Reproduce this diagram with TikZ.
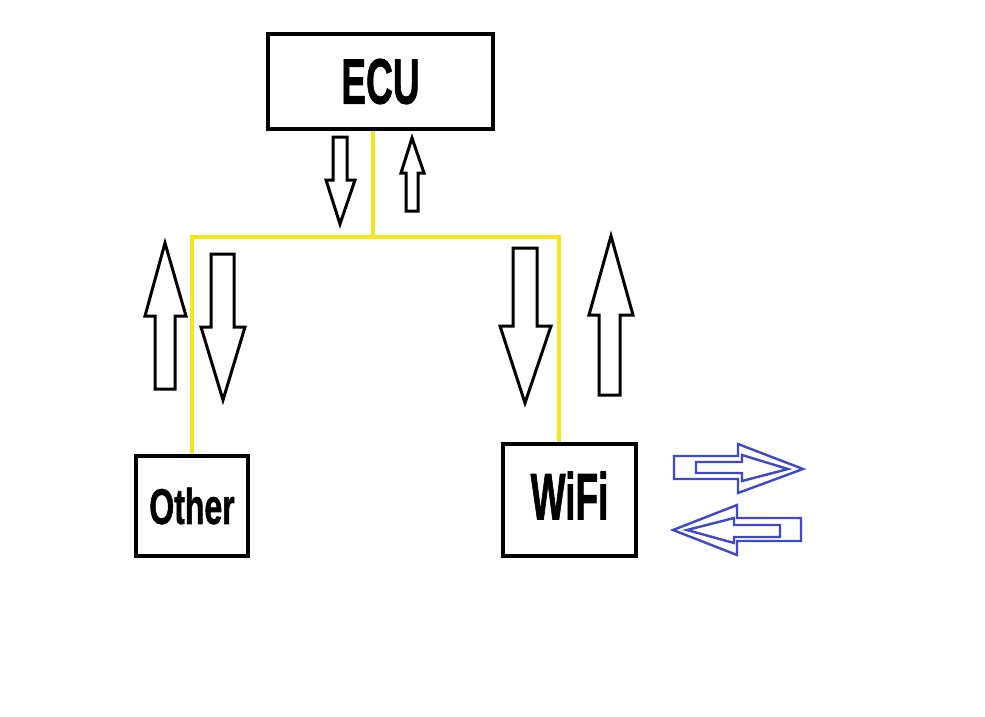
\documentclass[tikz,border=0pt]{standalone}
\usepackage{fontspec}
\setmainfont{Liberation Sans}
\newfontfamily\heavy[FakeBold=1.5]{Liberation Sans Bold}
\definecolor{wireyellow}{RGB}{245,232,25}
\definecolor{paintblue}{RGB}{63,72,204}
\begin{document}
\begin{tikzpicture}[x=1pt,y=-1pt,
  box/.style={draw=black,line width=4.5pt,inner sep=0pt,fill=white},
  wire/.style={draw=wireyellow,line width=3.2pt},
  fatarrow/.style={draw=black,line width=3pt,line join=miter},
  bluearrow/.style={draw=paintblue,line width=2.4pt,line join=miter}]
\useasboundingbox[fill=white] (0,0) rectangle (985,716);

% boxes
\node[box,minimum width=225pt,minimum height=95pt] (ecu) at (380.5,81.5)
  {\scalebox{0.58}[1]{\fontsize{64}{64}\heavy ECU}};
\node[box,minimum width=112pt,minimum height=100pt] (other) at (192,506)
  {\scalebox{0.64}[1]{\fontsize{50}{50}\heavy Other}};
\node[box,minimum width=133pt,minimum height=112pt] (wifi) at (569.5,500)
  {\raisebox{9pt}{\scalebox{0.56}[1]{\fontsize{66}{66}\heavy WiFi}}};

% yellow wiring
\coordinate (j) at (373,237);
\coordinate (jl) at (192,237);
\coordinate (jr) at (559,237);
\draw[wire] (ecu.south -| j) -- (j);
\draw[wire] (other.north) -- (jl) -- (jr) -- (jr |- wifi.north);

% ECU arrows
\draw[fatarrow] (333,137) -- (347,137) -- (347,180) -- (355,180) -- (340,224)
  -- (326,180) -- (333,180) -- cycle;
\draw[fatarrow] (412,138) -- (424,173) -- (418,173) -- (418,211) -- (406,211)
  -- (406,173) -- (401,173) -- cycle;

% Other arrows
\draw[fatarrow] (165,243) -- (186,316) -- (175,316) -- (175,389) -- (155,389)
  -- (155,316) -- (145,316) -- cycle;
\draw[fatarrow] (211,254) -- (234,254) -- (234,327) -- (245,327) -- (223,400)
  -- (201,327) -- (211,327) -- cycle;

% WiFi arrows
\draw[fatarrow] (513,248) -- (537,248) -- (537,326) -- (551,326) -- (525,403)
  -- (500,326) -- (513,326) -- cycle;
\draw[fatarrow] (611,236) -- (633,315) -- (620,315) -- (620,395) -- (599,395)
  -- (599,315) -- (589,315) -- cycle;

% blue arrows (right)
\draw[bluearrow] (674,456) -- (738,456) -- (738,444) -- (803,469) -- (738,493)
  -- (738,479) -- (674,479) -- cycle;
\draw[bluearrow] (696,462) -- (742,462) -- (742,455) -- (788,469) -- (742,481)
  -- (742,473) -- (696,473) -- cycle;
% blue arrows (left)
\draw[bluearrow] (801,518) -- (737,518) -- (737,505) -- (673,530) -- (737,555)
  -- (737,541) -- (801,541) -- cycle;
\draw[bluearrow] (780,525) -- (734,525) -- (734,518) -- (687,530) -- (734,543)
  -- (734,537) -- (780,537) -- cycle;
\end{tikzpicture}
\end{document}
